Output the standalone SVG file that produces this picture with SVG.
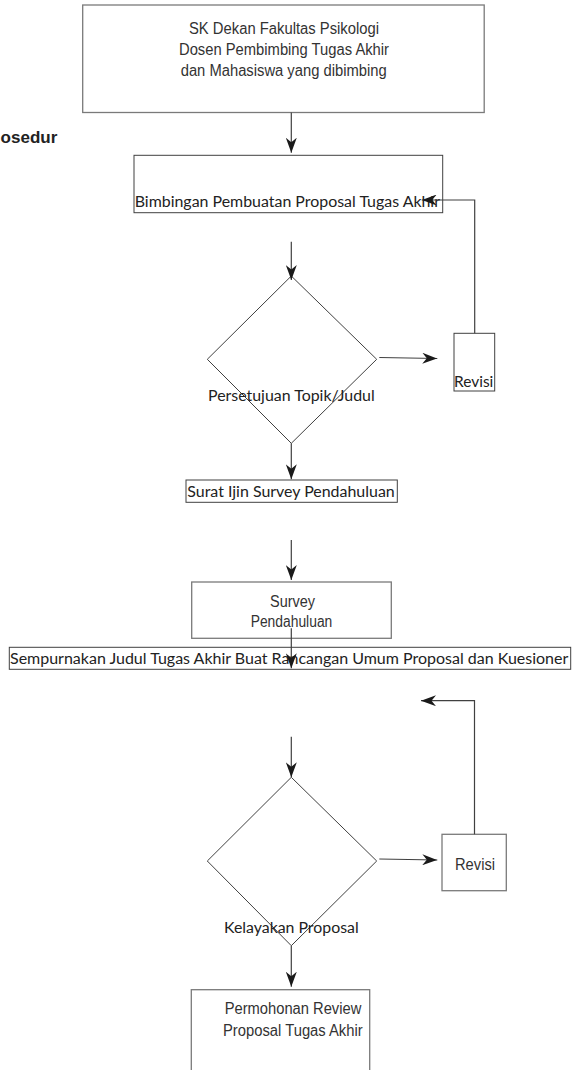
<svg xmlns="http://www.w3.org/2000/svg" width="579" height="1070" viewBox="0 0 579 1070">
<defs>
<marker id="ah" markerUnits="userSpaceOnUse" markerWidth="15" markerHeight="11" refX="15" refY="5.5" orient="auto">
<path d="M0,0 L15,5.5 L0,11 L4.5,5.5 z" fill="#1a1a1a"/>
</marker>
</defs>
<style>
.box{fill:#fff;stroke:#7a7a7a;stroke-width:1.3}
.boxd{fill:#fff;stroke:#404040;stroke-width:1}
.dia{fill:none;stroke:#404040;stroke-width:1}
.ar{font-family:"Liberation Sans",Arial,sans-serif;font-size:16px;fill:#333}
.la{font-family:Lato,"Open Sans",sans-serif;font-size:15.5px;fill:#222}
.ttl{font-family:"Liberation Sans",Arial,sans-serif;font-size:17px;font-weight:bold;fill:#222}
.ca{fill:none;stroke:#404040;stroke-width:1.2;marker-end:url(#ah)}
</style>
<rect width="579" height="1070" fill="#fff"/>
<text class="ttl" x="57.3" y="143.3" text-anchor="end">osedur</text>

<g id="n1">
<rect class="box" x="82.7" y="5" width="401.5" height="107.5"/>
<text class="ar" x="189" y="34.3" textLength="190" lengthAdjust="spacingAndGlyphs">SK Dekan Fakultas Psikologi</text>
<text class="ar" x="179" y="55" textLength="210" lengthAdjust="spacingAndGlyphs">Dosen Pembimbing Tugas Akhir</text>
<text class="ar" x="180.7" y="76" textLength="206" lengthAdjust="spacingAndGlyphs">dan Mahasiswa yang dibimbing</text>
</g>
<g id="n2">
<rect class="boxd" x="134" y="155.3" width="308.7" height="57.4"/>
<text class="la" x="134.7" y="207.3" textLength="305.3" lengthAdjust="spacingAndGlyphs">Bimbingan Pembuatan Proposal Tugas Akhir</text>
</g>
<g id="d1">
<polygon class="dia" points="291.3,276 376.7,359.3 291.3,443.3 207.3,359.3"/>
<text class="la" x="208" y="401.3" textLength="166.7" lengthAdjust="spacingAndGlyphs">Persetujuan Topik/Judul</text>
</g>
<g id="r1">
<rect class="boxd" x="454" y="333.3" width="40.7" height="57.7"/>
<text class="la" x="454" y="386.7" textLength="39.3" lengthAdjust="spacingAndGlyphs">Revisi</text>
</g>
<g id="n3">
<rect class="boxd" x="186" y="480" width="211.3" height="22.3"/>
<text class="la" x="187.3" y="497.3" textLength="207.4" lengthAdjust="spacingAndGlyphs">Surat Ijin Survey Pendahuluan</text>
</g>
<g id="n4">
<rect class="box" x="191.7" y="582" width="199.6" height="56.3"/>
<text class="ar" x="270" y="606.7" textLength="45" lengthAdjust="spacingAndGlyphs">Survey</text>
<text class="ar" x="250.7" y="626.7" textLength="81.6" lengthAdjust="spacingAndGlyphs">Pendahuluan</text>
</g>
<g id="n5">
<rect class="boxd" x="9.3" y="647.3" width="561.4" height="22"/>
<text class="la" x="10" y="664" textLength="558.3" lengthAdjust="spacingAndGlyphs">Sempurnakan Judul Tugas Akhir Buat Rancangan Umum Proposal dan Kuesioner</text>
</g>
<g id="d2">
<polygon class="dia" points="291.3,777.3 376.7,861 291.3,945.7 207.3,861"/>
<text class="la" x="224" y="932.7" textLength="134.7" lengthAdjust="spacingAndGlyphs">Kelayakan Proposal</text>
</g>
<g id="r2">
<rect class="box" x="442" y="834.3" width="64.3" height="56.4"/>
<text class="ar" x="455" y="870" textLength="40" lengthAdjust="spacingAndGlyphs">Revisi</text>
</g>
<g id="n6">
<rect class="box" x="191.3" y="989.7" width="178.4" height="100"/>
<text class="ar" x="224.7" y="1014" textLength="136.6" lengthAdjust="spacingAndGlyphs">Permohonan Review</text>
<text class="ar" x="223" y="1035.7" textLength="139.7" lengthAdjust="spacingAndGlyphs">Proposal Tugas Akhir</text>
</g>

<g id="connectors">
<line class="ca" x1="291.3" y1="112.5" x2="291.3" y2="152.7"/>
<line class="ca" x1="291.3" y1="241.7" x2="291.3" y2="280"/>
<line class="ca" x1="379.3" y1="357.5" x2="437.3" y2="358.5"/>
<polyline class="ca" points="474.7,333.3 474.7,200 421.7,200"/>
<line class="ca" x1="291.3" y1="443.3" x2="291.3" y2="479.3"/>
<line class="ca" x1="291.3" y1="540" x2="291.3" y2="580"/>
<line class="ca" x1="291.3" y1="628.3" x2="291.3" y2="668.3"/>
<polyline class="ca" points="474.5,834.3 474.5,700.7 421,700.7"/>
<line class="ca" x1="291.3" y1="736.7" x2="291.3" y2="777.3"/>
<line class="ca" x1="379.3" y1="859" x2="437.3" y2="860"/>
<line class="ca" x1="291.3" y1="945.7" x2="291.3" y2="986.7"/>
</g>
</svg>
